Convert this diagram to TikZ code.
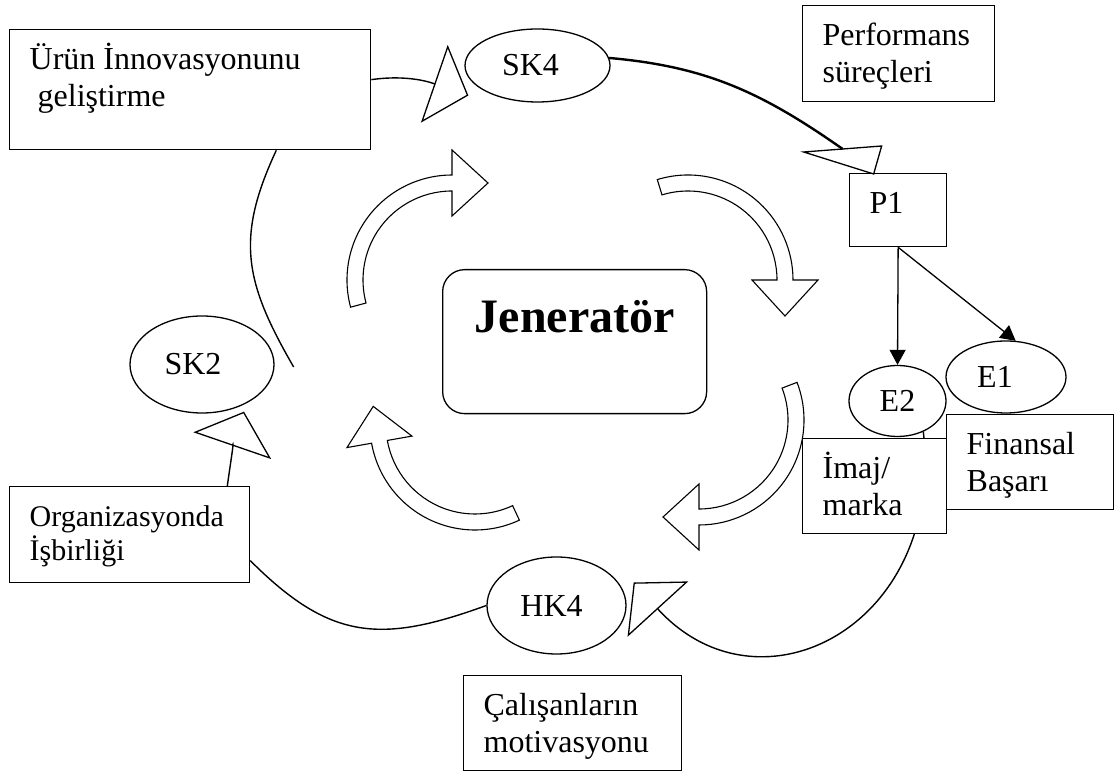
\documentclass[tikz,border=0pt]{standalone}
\usepackage{fontspec}
\setmainfont{Liberation Serif}
\usetikzlibrary{shapes.geometric,arrows.meta,positioning,calc}

% text of a box, set from the top
\newcommand{\boxtext}[3]{\parbox[t][#2][t]{#1}{\raggedright\rule{0pt}{40pt}#3}}

% hollow bent arrow round a centre: centre, tail angle, head angle
\newcommand{\bendarrow}[3]{%
  \draw[blockarrow] ($(#1)+(#2:105pt)$) arc[start angle=#2, end angle=#3, radius=105pt]
    -- ($(#1)+(#3:130pt)$) -- ($(#1)+(#3:97pt)+(#3-90:36pt)$)
    -- ($(#1)+(#3:64pt)$) -- ($(#1)+(#3:89pt)$)
    arc[start angle=#3, end angle=#2, radius=89pt] -- cycle;}

\begin{document}
\begin{tikzpicture}[x=1pt, y=1pt,
    font=\fontsize{32}{36.5}\selectfont,
    tbox/.style={draw, fill=white, line width=1.3pt, inner xsep=20pt, inner ysep=0pt, anchor=north west},
    oval/.style={ellipse, draw, fill=white, line width=1.3pt, inner sep=0pt},
    genbox/.style={draw, fill=white, line width=1.3pt, rounded corners=22pt, inner sep=0pt,
      anchor=north west, font=\bfseries\fontsize{48}{54}\selectfont},
    blockarrow/.style={draw, fill=white, line width=1.1pt},
    link/.style={line width=1.4pt},
    openhead/.style={-{Triangle[open, length=36pt, width=82pt, line width=1.3pt]}},
    filledhead/.style={line width=1.3pt, -{Triangle[length=15pt, width=16pt]}}
  ]
    \useasboundingbox (0,0) rectangle (1114,776);

    % Boxes
    \node[tbox] (urun) at (9,747) {\boxtext{321pt}{120pt}{Ürün İnnovasyonunu\\~geliştirme}};
    \node[tbox] (perf) at (802,771) {\boxtext{152pt}{96pt}{Performans\\süreçleri}};
    \node[tbox] (p1) at (849,603) {\boxtext{57pt}{73pt}{P1}};
    \node[tbox, font=\fontsize{30}{34}\selectfont] (org) at (9,290) {\boxtext{200pt}{96pt}{Organizasyonda\\İşbirliği}};
    \node[tbox] (calis) at (463,101) {\boxtext{178pt}{95pt}{Çalışanların\\motivasyonu}};
    \node[tbox] (finans) at (946,362) {\boxtext{127pt}{95pt}{Finansal\\Başarı}};

    % Generator
    \node[genbox] (gen) at (442,507) {\parbox[t][144pt][t]{264pt}{\centering\rule{0pt}{63pt}Jeneratör}};

    % Ovals
    \node[oval, minimum width=145pt, minimum height=73pt] (sk4) at (537.5,710.5) {SK4\hspace*{14pt}};
    \node[oval, minimum width=144pt, minimum height=97pt] (sk2) at (202,411.5) {SK2\hspace*{18pt}};
    \node[oval, minimum width=139pt, minimum height=97pt] (hk4) at (556.5,170.5) {HK4\hspace*{10pt}};
    \node[oval, minimum width=97pt, minimum height=71pt] (e2) at (897.5,375) {E2};
    \node[oval, minimum width=120pt, minimum height=72pt] (e1) at (1006,399) {E1\hspace*{22pt}};

    % Outer loop
    \draw[link, openhead] ([yshift=10pt]urun.east) to[out=8, in=161] ([xshift=4pt, yshift=-30pt]sk4.west);
    \coordinate (p1in) at ([shift={(-55.5,24)}]p1.north);
    \draw[line width=2.4pt] (sk4.6) to[out=-5, in=145] (p1in);
    \draw[line width=1.3pt] ([shift={(-94.5,21)}]p1.north) -- ([shift={(-16.5,27)}]p1.north)
      -- ([shift={(-24.5,-1)}]p1.north) -- cycle;
    \draw[link] ([xshift=-95pt]urun.south east) to[out=-115, in=120, looseness=1.15] ([xshift=19pt, yshift=-2.5pt]sk2.east);
    \draw[link, openhead] ([xshift=-23pt]org.north east) to[out=82, in=-109] ([xshift=42pt, yshift=2pt]sk2.south);
    \draw[link] ([yshift=-26pt]org.east) to[out=-45, in=200, looseness=1.2] (hk4.west);
    \draw[link, openhead] (e2.-50) .. controls (945,150) and (760,55) .. ([xshift=7pt, yshift=23pt]hk4.east);

    % Image box over the loop
    \node[tbox] (imaj) at (802,338) {\boxtext{104pt}{95pt}{İmaj/\\marka}};

    % Results
    \draw[filledhead] (p1.south) -- (e2.north);
    \draw[filledhead] (p1.south) -- (e1.75);

    % Inner cycle
    \coordinate (cA) at (452,496);
    \coordinate (cB) at (688,496);
    \coordinate (cC) at (699,356);
    \coordinate (cD) at (475,351);
    \bendarrow{cA}{195}{90}
    \bendarrow{cB}{107}{0}
    \bendarrow{cC}{21}{-90}
    \bendarrow{cD}{295}{190}
\end{tikzpicture}
\end{document}
